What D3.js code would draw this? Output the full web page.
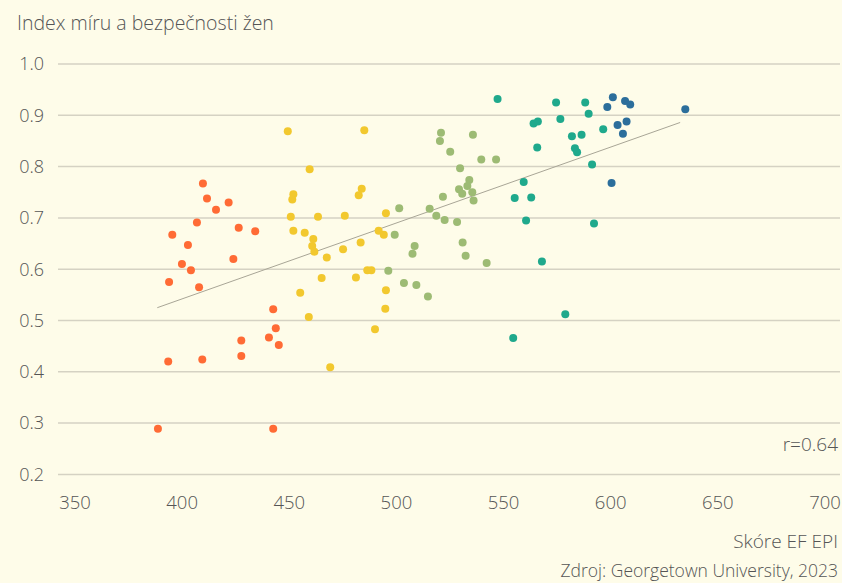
<!DOCTYPE html>
<html lang="cs">
<head>
<meta charset="UTF-8">
<title>Index míru a bezpečnosti žen</title>
<script src="https://d3js.org/d3.v7.min.js"></script>
<style>
  html, body { margin: 0; padding: 0; background: #fefce9; }
  svg { display: block; font-family: "Open Sans", Roboto, sans-serif; font-weight: 300; }
</style>
</head>
<body>
<script>
// hodnoty, po skupinách podle skóre EF EPI
var orangeX = [409.7, 411.6, 421.7, 415.8, 406.9, 395.4, 426.4, 434.1, 402.7, 423.9, 399.9, 404.1, 393.9, 407.9, 442.5, 443.7, 427.6, 440.5, 445.1, 427.6, 393.5, 409.4, 388.7, 442.5];
var orangeY = [0.767, 0.738, 0.730, 0.716, 0.691, 0.667, 0.681, 0.674, 0.647, 0.620, 0.610, 0.598, 0.575, 0.565, 0.522, 0.485, 0.461, 0.467, 0.452, 0.431, 0.420, 0.424, 0.289, 0.289];

var yellowX = [449.3, 485.0, 459.5, 451.9, 451.4, 483.8, 482.4, 450.7, 463.4, 475.9, 495.1, 451.9, 457.2, 461.2, 460.7, 461.7, 467.5, 475.1, 483.3, 491.7, 494.1, 486.4, 488.3, 465.1, 481.1, 455.1, 495.1, 459.1, 494.8, 490.0, 469.1];
var yellowY = [0.869, 0.871, 0.795, 0.746, 0.736, 0.757, 0.744, 0.702, 0.702, 0.704, 0.709, 0.675, 0.671, 0.659, 0.645, 0.634, 0.623, 0.639, 0.652, 0.675, 0.667, 0.598, 0.598, 0.583, 0.584, 0.554, 0.559, 0.507, 0.523, 0.483, 0.409];

var greenX = [520.8, 520.3, 535.7, 525.1, 539.6, 546.5, 529.7, 534.0, 533.1, 529.2, 530.7, 535.4, 536.0, 521.7, 501.3, 515.5, 518.6, 522.5, 528.3, 499.2, 508.5, 507.5, 530.9, 532.3, 542.1, 496.2, 503.5, 509.3, 514.7];
var greenY = [0.866, 0.850, 0.862, 0.829, 0.814, 0.814, 0.797, 0.774, 0.762, 0.756, 0.747, 0.750, 0.734, 0.741, 0.719, 0.718, 0.704, 0.696, 0.692, 0.667, 0.645, 0.630, 0.652, 0.626, 0.612, 0.597, 0.573, 0.569, 0.547];

var tealX = [547.2, 574.5, 588.1, 589.7, 576.5, 564.0, 566.0, 581.9, 586.4, 565.7, 583.3, 584.3, 591.3, 559.4, 555.2, 562.9, 560.5, 592.2, 567.9, 578.8, 596.5, 554.5];
var tealY = [0.932, 0.925, 0.925, 0.903, 0.893, 0.884, 0.888, 0.859, 0.862, 0.837, 0.836, 0.828, 0.804, 0.770, 0.739, 0.740, 0.695, 0.689, 0.615, 0.512, 0.873, 0.466];

var blueX = [601.0, 606.7, 609.1, 598.4, 634.8, 603.2, 607.4, 605.7, 600.4];
var blueY = [0.935, 0.928, 0.921, 0.916, 0.912, 0.881, 0.888, 0.864, 0.768];

var groupColors = ['#ff6b35', '#f2c82e', '#9dbb74', '#1fa98c', '#2c6e9b'];

// regresní přímka (konce)
var trendX = [388.4, 632.4];
var trendY = [0.525, 0.886];

var xTicks = [350, 400, 450, 500, 550, 600, 650, 700];
var yTicks = [0.2, 0.3, 0.4, 0.5, 0.6, 0.7, 0.8, 0.9, 1.0];

var W = 842, H = 583;

var svg = d3.select('body').append('svg')
  .attr('width', W)
  .attr('height', H);

var x = d3.scaleLinear().domain([350, 700]).range([75, 825]);
var y = d3.scaleLinear().domain([0.2, 1.0]).range([474.4, 64]);

// mřížka
svg.append('g')
  .selectAll('line')
  .data(yTicks)
  .enter()
  .append('line')
    .attr('x1', 58)
    .attr('x2', 840)
    .attr('y1', d => y(d))
    .attr('y2', d => y(d))
    .attr('stroke', '#d5d2c3')
    .attr('stroke-width', 1.5);

// popisky osy y
svg.append('g')
  .selectAll('text')
  .data(yTicks)
  .enter()
  .append('text')
    .attr('x', 44)
    .attr('y', d => y(d))
    .attr('dy', '0.35em')
    .attr('text-anchor', 'end')
    .attr('fill', '#555')
    .style('font-size', '18px')
    .text(d => d3.format('.1f')(d));

// popisky osy x
svg.append('g')
  .selectAll('text')
  .data(xTicks)
  .enter()
  .append('text')
    .attr('x', d => x(d))
    .attr('y', 503)
    .attr('dy', '0.35em')
    .attr('text-anchor', 'middle')
    .attr('fill', '#555')
    .style('font-size', '18.5px')
    .text(d => d);

// trend
svg.append('line')
  .attr('x1', x(trendX[0]))
  .attr('y1', y(trendY[0]))
  .attr('x2', x(trendX[1]))
  .attr('y2', y(trendY[1]))
  .attr('stroke', '#a8a596')
  .attr('stroke-width', 1);

// body
var groups = [
  [orangeX, orangeY],
  [yellowX, yellowY],
  [greenX, greenY],
  [tealX, tealY],
  [blueX, blueY]
];

groups.forEach(function(g, gi) {
  svg.append('g')
    .selectAll('circle')
    .data(g[0])
    .enter()
    .append('circle')
      .attr('cx', d => x(d))
      .attr('cy', (d, i) => y(g[1][i]))
      .attr('r', 4)
      .attr('fill', groupColors[gi]);
});

// texty
svg.append('text')
  .attr('x', 17)
  .attr('y', 30)
  .attr('fill', '#555')
  .style('font-size', '19.5px')
  .text('Index míru a bezpečnosti žen');

svg.append('text')
  .attr('x', 838)
  .attr('y', 451)
  .attr('text-anchor', 'end')
  .attr('fill', '#555')
  .style('font-size', '19px')
  .text('r=0.64');

svg.append('text')
  .attr('x', 838)
  .attr('y', 548)
  .attr('text-anchor', 'end')
  .attr('fill', '#555')
  .style('font-size', '19px')
  .text('Skóre EF EPI');

svg.append('text')
  .attr('x', 838)
  .attr('y', 577)
  .attr('text-anchor', 'end')
  .attr('fill', '#555')
  .style('font-size', '17.5px')
  .text('Zdroj: Georgetown University, 2023');
</script>
</body>
</html>
